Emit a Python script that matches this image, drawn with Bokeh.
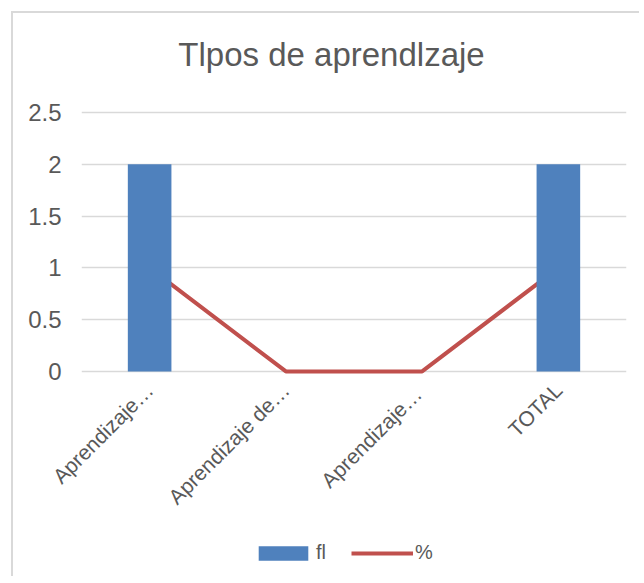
from bokeh.plotting import figure
from bokeh.models import FactorRange, Range1d, Legend, LegendItem, Label
from bokeh.layouts import column
from bokeh.embed import file_html
from bokeh.resources import INLINE
from math import pi

title_text = "Tlpos de aprendlzaje"
categories = ["Aprendizaje…", "Aprendizaje de…", "Aprendizaje…", "TOTAL"]
# distinct factor keys (the first and third labels look identical)
factor_keys = ["Aprendizaje…", "Aprendizaje de…", "Aprendizaje… ", "TOTAL"]
fi_values = [2, 0, 0, 2]
pct_values = [1, 0, 0, 1]
y_ticks = [0, 0.5, 1, 1.5, 2, 2.5]
y_tick_labels = ["0", "0.5", "1", "1.5", "2", "2.5"]
series_names = ["fl", "%"]

GRAY_TEXT = "#595959"
GRID = "#d9d9d9"
BLUE = "#4f81bd"
RED = "#c0504d"
FONT = "Liberation Sans"
NAN = float("nan")

p = figure(
    x_range=FactorRange(*factor_keys, range_padding=0),
    y_range=Range1d(-0.03, 3.36),
    width=628, height=510,
    output_backend="svg", toolbar_location=None,
    min_border_left=68, min_border_right=15, min_border_top=10, min_border_bottom=149,
)
p.styles = {"border-top": "2px solid #d9d9d9", "border-left": "2px solid #d9d9d9",
            "margin-top": "11px", "margin-left": "11px"}

line = p.line(x=factor_keys, y=pct_values, line_color=RED, line_width=4)
bars = p.vbar(x=factor_keys, top=fi_values, width=0.32, fill_color=BLUE, line_color=None)

p.add_layout(Label(x=1.835, y=3.06, text=title_text, text_align="center",
                   text_baseline="alphabetic", text_font=FONT, text_font_size="33px",
                   text_color=GRAY_TEXT))

p.outline_line_color = None
p.background_fill_color = "white"
p.border_fill_color = "white"

p.xgrid.grid_line_color = None
p.ygrid.grid_line_color = GRID
p.ygrid.grid_line_width = 1.5
p.ygrid.ticker = y_ticks

p.yaxis.ticker = y_ticks
p.yaxis.major_label_overrides = {t: l for t, l in zip(y_ticks, y_tick_labels)}
p.yaxis.axis_line_color = None
p.yaxis.major_tick_line_color = None
p.yaxis.minor_tick_line_color = None
p.yaxis.major_tick_out = 0
p.yaxis.major_label_standoff = 20
p.yaxis.major_label_text_font = FONT
p.yaxis.major_label_text_font_size = "24px"
p.yaxis.major_label_text_color = GRAY_TEXT

p.xaxis.axis_line_color = None
p.xaxis.major_tick_line_color = None
p.xaxis.major_tick_out = 0
p.xaxis.major_label_orientation = pi / 4
p.xaxis.major_label_standoff = 12
p.xaxis.major_label_text_font = FONT
p.xaxis.major_label_text_font_size = "21px"
p.xaxis.major_label_text_color = GRAY_TEXT
p.xaxis.major_label_overrides = {k: c for k, c in zip(factor_keys, categories)}

# legend strip below the chart (legend keys only, nothing plotted)
lf = figure(width=628, height=55, x_range=Range1d(0, 1), y_range=Range1d(0, 1),
            x_axis_type=None, y_axis_type=None, output_backend="svg", toolbar_location=None,
            min_border=0)
lf.styles = {"border-left": "2px solid #d9d9d9", "margin-left": "11px"}
lf.outline_line_color = None
lf.xgrid.grid_line_color = None
lf.ygrid.grid_line_color = None
key_bar = lf.vbar(x=[NAN], top=[NAN], width=0.1, fill_color=BLUE, line_color=None)
key_line = lf.line(x=[NAN], y=[NAN], line_color=RED, line_width=4)

legend = Legend(items=[LegendItem(label=series_names[0], renderers=[key_bar]),
                       LegendItem(label=series_names[1], renderers=[key_line])],
                orientation="horizontal", location=(171, 12),
                glyph_width=62, glyph_height=18, label_standoff=2, spacing=15,
                padding=0, margin=0, border_line_color=None, background_fill_alpha=0,
                label_text_font=FONT, label_text_font_size="20px", label_text_color=GRAY_TEXT)
lf.add_layout(legend, "center")

layout = column(p, lf, spacing=0)
open("out.html", "w").write(file_html(layout, INLINE))
